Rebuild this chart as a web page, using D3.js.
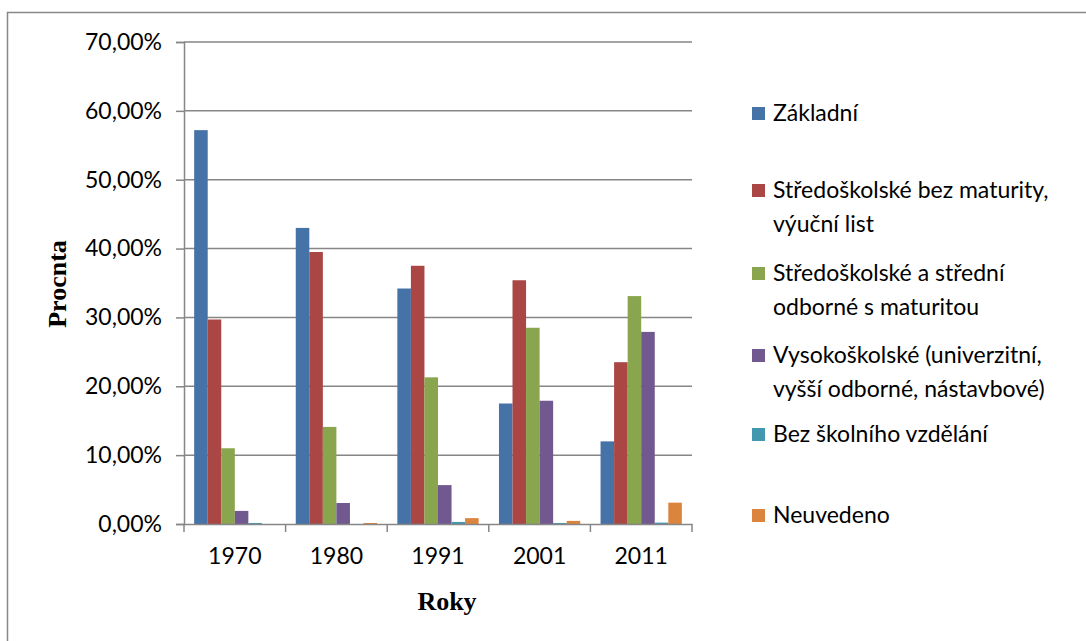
<!DOCTYPE html>
<html>
<head>
<meta charset="utf-8">
<script src="https://cdn.jsdelivr.net/npm/d3@7"></script>
<style>
  body { margin: 0; background: #fff; }
  svg { display: block; }
</style>
</head>
<body>
<div id="chart"></div>
<script>
// data (percent)
var years = ["1970", "1980", "1991", "2001", "2011"]
var seriesNames = [
  ["Základní"],
  ["Středoškolské bez maturity,", "výuční list"],
  ["Středoškolské a střední", "odborné s maturitou"],
  ["Vysokoškolské (univerzitní,", "vyšší odborné, nástavbové)"],
  ["Bez školního vzdělání"],
  ["Neuvedeno"]
]
var zakladni = [57.2, 43.0, 34.2, 17.5, 12.0]
var bezMaturity = [29.7, 39.5, 37.5, 35.4, 23.5]
var sMaturitou = [11.0, 14.1, 21.3, 28.5, 33.1]
var vysokoskolske = [1.9, 3.05, 5.65, 17.9, 27.9]
var bezVzdelani = [0.15, 0, 0.3, 0.15, 0.2]
var neuvedeno = [0, 0.15, 0.85, 0.45, 3.1]
var yTicks = [0, 10, 20, 30, 40, 50, 60, 70]
var colors = ["#4572A7", "#AA4643", "#89A54E", "#71588F", "#4198AF", "#DB843D"]

var allSeries = [zakladni, bezMaturity, sMaturitou, vysokoskolske, bezVzdelani, neuvedeno]

var svg = d3.select("#chart")
    .append("svg")
    .attr("width", 1086)
    .attr("height", 641)

// outer frame
svg.append("rect")
    .attr("x", 7.5)
    .attr("y", 12.5)
    .attr("width", 1200)
    .attr("height", 800)
    .style("fill", "none")
    .style("stroke", "#888")
    .style("stroke-width", 1.5)

var x = d3.scaleBand()
    .domain(years)
    .range([184, 692])

var xSub = d3.scaleBand()
    .domain(d3.range(allSeries.length))
    .range([0, x.bandwidth()])
    .paddingInner(0)
    .paddingOuter(0.75)

var y = d3.scaleLinear()
    .domain([0, 70])
    .range([524, 42])

var gray = "#868686"

// gridlines
svg.append("g")
    .selectAll("line")
    .data(yTicks.slice(1))
    .join("line")
    .attr("x1", 184)
    .attr("x2", 692)
    .attr("y1", d => y(d))
    .attr("y2", d => y(d))
    .style("stroke", gray)
    .style("stroke-width", 1.5)

// bars
allSeries.forEach(function (vals, si) {
  svg.append("g")
    .selectAll("rect")
    .data(vals)
    .join("rect")
    .attr("x", (d, i) => x(years[i]) + xSub(si))
    .attr("y", d => y(d))
    .attr("width", xSub.bandwidth())
    .attr("height", d => y(0) - y(d))
    .style("fill", colors[si])
})

var fontUI = "Lato, 'Open Sans', sans-serif"

// y axis
var yAxis = svg.append("g")
    .attr("transform", "translate(184,0)")
    .call(d3.axisLeft(y).tickValues(yTicks).tickSize(8).tickPadding(14)
      .tickFormat(d => d3.format(".2f")(d).replace(".", ",") + "%"))
yAxis.select(".domain").style("stroke", gray).style("stroke-width", 1.5)
yAxis.selectAll(".tick line").style("stroke", gray).style("stroke-width", 1.5)
yAxis.selectAll("text")
    .style("font-family", fontUI)
    .style("font-size", "23px")
    .style("fill", "#000")

// x axis
var xAxis = svg.append("g")
    .attr("transform", "translate(0,524)")
    .call(d3.axisBottom(x).tickSize(0).tickPadding(24))
xAxis.select(".domain").style("stroke", gray).style("stroke-width", 1.5)
xAxis.selectAll("text")
    .style("font-family", fontUI)
    .style("font-size", "23px")
    .style("fill", "#000")

// category separator ticks
svg.append("g")
    .selectAll("line")
    .data(years.concat(["end"]))
    .join("line")
    .attr("x1", (d, i) => i < years.length ? x(d) : x.range()[1])
    .attr("x2", (d, i) => i < years.length ? x(d) : x.range()[1])
    .attr("y1", 524)
    .attr("y2", 532)
    .style("stroke", gray)
    .style("stroke-width", 1.5)

// axis titles
svg.append("text")
    .attr("transform", "translate(66,284) rotate(-90)")
    .attr("text-anchor", "middle")
    .style("font-family", "'Liberation Serif', 'Times New Roman', serif")
    .style("font-weight", "bold")
    .style("font-size", "26px")
    .text("Procnta")

svg.append("text")
    .attr("x", 447)
    .attr("y", 610)
    .attr("text-anchor", "middle")
    .style("font-family", "'Liberation Serif', 'Times New Roman', serif")
    .style("font-weight", "bold")
    .style("font-size", "26px")
    .text("Roky")

// legend
var legendTop = [113, 190, 273, 355, 434, 515]
var legend = svg.append("g")
seriesNames.forEach(function (lines, i) {
  var g = legend.append("g").attr("transform", "translate(752," + legendTop[i] + ")")
  g.append("rect")
    .attr("x", 0)
    .attr("y", -6)
    .attr("width", 13)
    .attr("height", 13)
    .style("fill", colors[i])
  g.selectAll("text")
    .data(lines)
    .join("text")
    .attr("x", 21)
    .attr("y", (d, j) => j * 34)
    .attr("dy", "0.35em")
    .style("font-family", fontUI)
    .style("font-size", "23px")
    .style("fill", "#000")
    .text(d => d)
})
</script>
</body>
</html>
